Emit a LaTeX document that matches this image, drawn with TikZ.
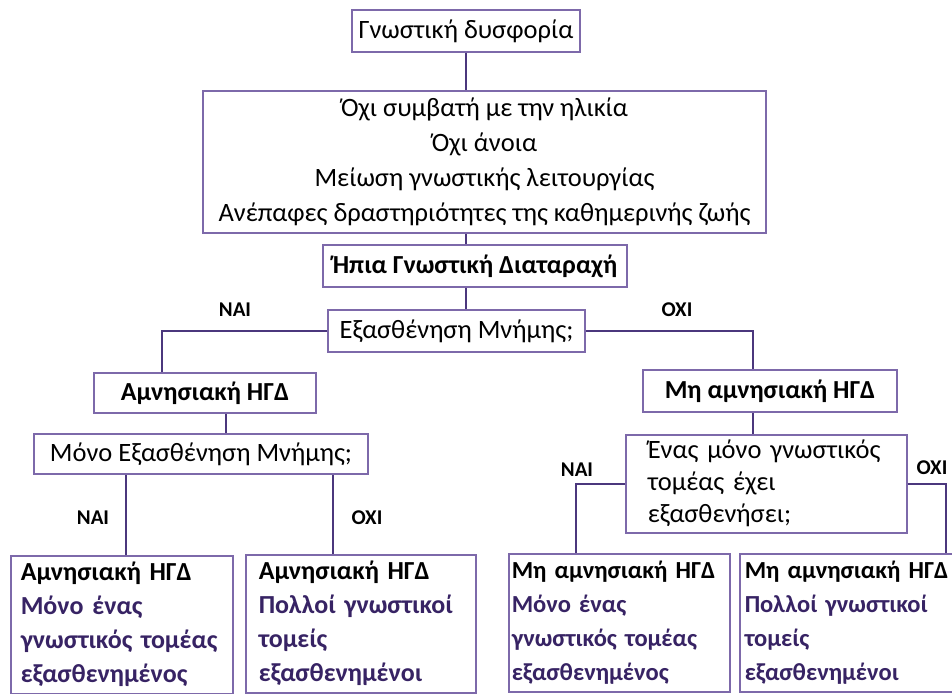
\documentclass[tikz,border=0pt]{standalone}
\usepackage{fontspec}
\setmainfont{Carlito}
\definecolor{boxline}{RGB}{125,105,170}
\definecolor{wireline}{RGB}{75,55,125}
\definecolor{leafpurple}{RGB}{55,35,100}

\begin{document}
\begin{tikzpicture}[x=1pt,y=-1pt,
	box/.style={draw=boxline, line width=1.5pt, fill=white, inner sep=0pt, font=\fontsize{26.5}{35}\selectfont},
	bbox/.style={box, font=\bfseries\fontsize{26}{35}\selectfont},
	leaf/.style={box, anchor=north west, align=left, minimum height=138pt, font=\bfseries\fontsize{26}{34}\selectfont},
	nleaf/.style={leaf, font=\bfseries\fontsize{24.5}{34}\selectfont},
	wire/.style={draw=wireline, line width=2.5pt},
	ans/.style={font=\bfseries\fontsize{21}{21}\selectfont}]
	\clip (0,0) rectangle (952,693);
	
	% top of the tree
	\node[box, minimum width=228pt, minimum height=42pt] (dysf) at (466,31) {Γνωστική δυσφορία};
	\node[box, align=center, minimum width=563pt, minimum height=142pt] (crit) at (484.5,162) {Όχι συμβατή με την ηλικία\\Όχι άνοια\\Μείωση γνωστικής λειτουργίας\\Ανέπαφες δραστηριότητες της καθημερινής ζωής};
	\node[bbox, minimum width=304pt, minimum height=42pt] (mci) at (475,266) {Ήπια Γνωστική Διαταραχή};
	\node[box, minimum width=257pt, minimum height=42pt] (mem) at (456.5,331) {Εξασθένηση Μνήμης;};
	
	% amnestic side
	\node[bbox, minimum width=222pt, minimum height=40pt] (amn) at (205,393) {Αμνησιακή ΗΓΔ};
	\node[box, minimum width=334pt, minimum height=40pt] (only) at (201,454) {Μόνο Εξασθένηση Μνήμης;};
	\node[leaf, inner xsep=10pt, text width=202pt] (amnS) at (10,555) {Αμνησιακή ΗΓΔ\\\textcolor{leafpurple}{Μόνο ένας}\\\textcolor{leafpurple}{γνωστικός τομέας}\\\textcolor{leafpurple}{εξασθενημένος}};
	\node[leaf, inner xsep=13pt, text width=204pt] (amnM) at (245,554) {Αμνησιακή ΗΓΔ\\\textcolor{leafpurple}{Πολλοί γνωστικοί}\\\textcolor{leafpurple}{τομείς}\\\textcolor{leafpurple}{εξασθενημένοι}};
	
	% non-amnestic side
	\node[bbox, minimum width=254pt, minimum height=42pt] (non) at (770,391) {Μη αμνησιακή ΗΓΔ};
	\node[box, anchor=north west, align=left, inner xsep=22pt, text width=237pt, minimum height=98pt, font=\fontsize{26.5}{32}\selectfont] (one) at (625,434) {Ένας μόνο γνωστικός\\τομέας έχει\\εξασθενήσει;};
	\node[nleaf, inner xsep=3pt, text width=215pt] (nonS) at (508,553) {\mbox{Μη αμνησιακή ΗΓΔ}\\\textcolor{leafpurple}{Μόνο ένας}\\\textcolor{leafpurple}{γνωστικός τομέας}\\\textcolor{leafpurple}{εξασθενημένος}};
	\node[nleaf, inner xsep=5pt, text width=211pt] (nonM) at (739,553) {\mbox{Μη αμνησιακή ΗΓΔ}\\\textcolor{leafpurple}{Πολλοί γνωστικοί}\\\textcolor{leafpurple}{τομείς}\\\textcolor{leafpurple}{εξασθενημένοι}};
	
	% connectors
	\draw[wire] (dysf.south) -- (dysf.south |- crit.north);
	\draw[wire] (crit.south -| dysf.south) -- (mci.north -| dysf.south);
	\draw[wire] (mci.south -| dysf.south) -- (mem.north -| dysf.south);
	\draw[wire] (mem.west) -| ([xshift=-43pt]amn.north);
	\draw[wire] (mem.east) -| ([xshift=-17pt]non.north);
	\draw[wire] ([xshift=21pt]amn.south) -- ([xshift=21pt]amn.south |- only.north);
	\draw[wire] ([xshift=4pt]amnS.north) -- ([xshift=4pt]amnS.north |- only.south);
	\draw[wire] ([xshift=-28pt]amnM.north) -- ([xshift=-28pt]amnM.north |- only.south);
	\draw[wire] ([xshift=-17pt]non.south) -- ([xshift=-17pt]non.south |- one.north);
	\draw[wire] (one.west) -| ([xshift=-43.5pt]nonS.north);
	\draw[wire] (one.east) -| ([xshift=95.5pt]nonM.north);
	
	% answers
	\node[ans] (yes1) at (235,310) {ΝΑΙ};
	\node[ans] (no1) at (677,310) {ΟΧΙ};
	\node[ans] (yes2) at (93,518) {ΝΑΙ};
	\node[ans] (no2) at (367,518) {ΟΧΙ};
	\node[ans] (yes3) at (577,470) {ΝΑΙ};
	\node[ans] (no3) at (932,468) {ΟΧΙ};
\end{tikzpicture}
\end{document}
